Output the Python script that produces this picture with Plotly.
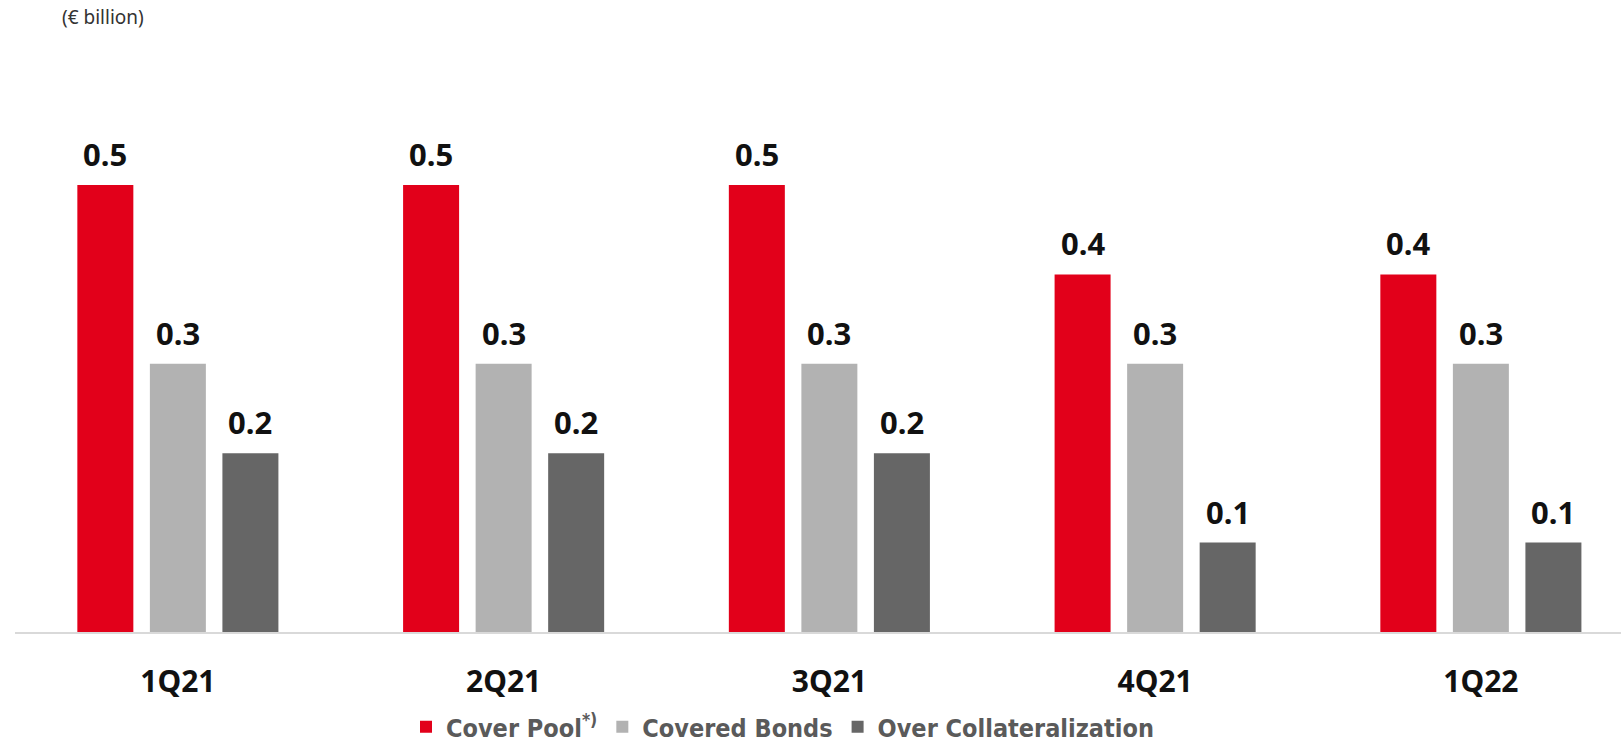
import plotly.graph_objects as go

# Quarterly volumes (€ billion)
quarters = ["1Q21", "2Q21", "3Q21", "4Q21", "1Q22"]
cover_pool = [0.5, 0.5, 0.5, 0.4, 0.4]
covered_bonds = [0.3, 0.3, 0.3, 0.3, 0.3]
over_collateralization = [0.2, 0.2, 0.2, 0.1, 0.1]

series_names = ["Cover Pool<sup>*)</sup>", "Covered Bonds", "Over Collateralization"]
series_values = [cover_pool, covered_bonds, over_collateralization]
series_colors = ["#E2001A", "#B2B2B2", "#666666"]

W, H = 1621, 743
margin = dict(l=15, r=0, t=40, b=111, autoexpand=False)
plot_w = W - margin["l"] - margin["r"]
plot_h = H - margin["t"] - margin["b"]
px_per_unit = 894.0
cat_px = 325.75
bargap = 0.332
bargroupgap = 0.228
slot_px = cat_px * (1 - bargap) / len(series_values)

fig = go.Figure()
annotations = []
for k, (name, vals, color) in enumerate(zip(series_names, series_values, series_colors)):
    fig.add_trace(go.Bar(
        x=quarters,
        y=vals,
        name=name,
        marker=dict(color=color, line=dict(width=0)),
    ))
    # value labels above each bar of this series
    for q, v in zip(quarters, vals):
        annotations.append(dict(
            x=q, y=v, xref="x", yref="y",
            text=f"{v:.1f}",
            xanchor="center", yanchor="bottom",
            xshift=(k - 1) * slot_px, yshift=8,
            showarrow=False,
            font=dict(family="Noto Sans", size=31, color="#111111", weight="bold"),
        ))

annotations.append(dict(
    text="(€ billion)",
    xref="paper", yref="paper",
    x=(60 - margin["l"]) / plot_w,
    y=1 + (40 - 17) / plot_h,
    xanchor="left", yanchor="middle",
    showarrow=False,
    font=dict(family="Noto Sans", size=19, color="#333333"),
))

fig.update_layout(
    width=W,
    height=H,
    margin=margin,
    barmode="group",
    bargap=bargap,
    bargroupgap=bargroupgap,
    paper_bgcolor="white",
    plot_bgcolor="white",
    showlegend=True,
    legend=dict(
        orientation="h",
        x=(406 - margin["l"]) / plot_w,
        xanchor="left",
        y=(632 - 727) / plot_h,
        yanchor="middle",
        font=dict(family="DejaVu Sans Condensed", size=25, color="#5A5A5A", weight="bold"),
        itemwidth=30,
        traceorder="normal",
        bgcolor="rgba(0,0,0,0)",
    ),
    xaxis=dict(
        type="category",
        range=[-0.5, plot_w / cat_px - 0.5],
        showline=True,
        linecolor="#D9D9D9",
        linewidth=2,
        showgrid=False,
        zeroline=False,
        ticks="",
        ticklabelstandoff=22,
        tickfont=dict(family="Noto Sans", size=30, color="#111111", weight="bold"),
    ),
    yaxis=dict(
        range=[0, plot_h / px_per_unit],
        visible=False,
        showgrid=False,
        zeroline=False,
    ),
    annotations=annotations,
)

fig.write_html("out.html")
